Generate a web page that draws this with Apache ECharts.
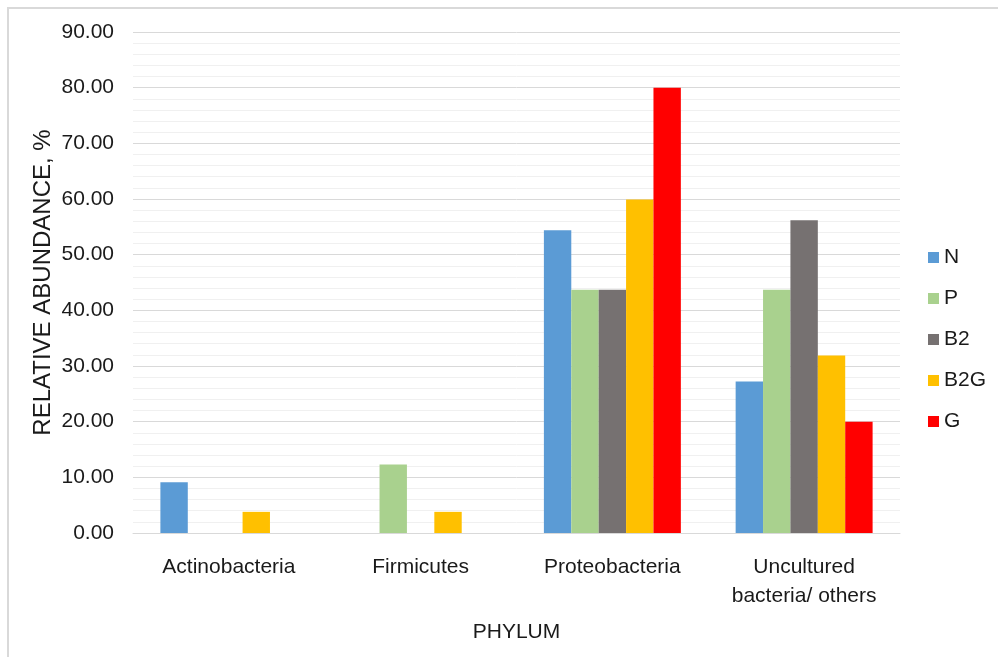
<!DOCTYPE html>
<html>
<head>
<meta charset="utf-8">
<script src="https://cdn.jsdelivr.net/npm/echarts@6/dist/echarts.min.js"></script>
<style>
html,body{margin:0;padding:0;background:#fff;}
#chart{width:998px;height:657px;}
</style>
</head>
<body>
<div id="chart"></div>
<script>
var categories = ['Actinobacteria', 'Firmicutes', 'Proteobacteria', 'Uncultured\nbacteria/ others'];
var seriesNames = ['N', 'P', 'B2', 'B2G', 'G'];
var valuesN   = [9.1, null, 54.4, 27.2];
var valuesP   = [null, 12.3, 43.7, 43.7];
var valuesB2  = [null, null, 43.7, 56.2];
var valuesB2G = [3.8, 3.8, 59.9, 31.9];
var valuesG   = [null, null, 80.0, 20.0];
var yTicks = { min: 0, max: 90, interval: 10 };

var colors = ['#5B9BD5', '#A9D18E', '#767171', '#FFC000', '#FF0000'];
var allValues = [valuesN, valuesP, valuesB2, valuesB2G, valuesG];
var FONT = 'Liberation Sans, Arial, sans-serif';

var chart = echarts.init(document.getElementById('chart'), null, { renderer: 'canvas' });
chart.setOption({
  animation: false,
  backgroundColor: '#fff',
  textStyle: { fontFamily: FONT, color: '#1a1a1a' },
  graphic: [{
    type: 'rect',
    shape: { x: 8, y: 8, width: 2000, height: 2000 },
    style: { fill: 'none', stroke: '#d9d9d9', lineWidth: 2 },
    silent: true
  }],
  grid: { left: 133, right: 98, top: 32, bottom: 124, containLabel: false },
  legend: {
    orient: 'vertical',
    left: 928,
    top: 247,
    padding: 0,
    itemWidth: 11,
    itemHeight: 11,
    itemGap: 20,
    icon: 'rect',
    textStyle: { fontSize: 21, lineHeight: 21, color: '#1a1a1a', fontFamily: FONT },
    data: seriesNames
  },
  xAxis: {
    type: 'category',
    data: categories,
    name: 'PHYLUM',
    nameLocation: 'middle',
    nameGap: 89,
    nameMoveOverlap: false,
    nameTextStyle: { fontSize: 21, color: '#1a1a1a', fontFamily: FONT },
    axisLine: { lineStyle: { color: '#d9d9d9', width: 1 } },
    axisTick: { show: false },
    axisLabel: { fontSize: 21, lineHeight: 29, margin: 20, color: '#1a1a1a', fontFamily: FONT, interval: 0 }
  },
  yAxis: {
    type: 'value',
    min: yTicks.min,
    max: yTicks.max,
    interval: yTicks.interval,
    name: 'RELATIVE ABUNDANCE, %',
    nameLocation: 'middle',
    nameGap: 78,
    nameMoveOverlap: false,
    nameTextStyle: { fontSize: 24, color: '#1a1a1a', fontFamily: FONT },
    axisLine: { show: false },
    axisTick: { show: false },
    axisLabel: {
      fontSize: 21, margin: 19, color: '#1a1a1a', fontFamily: FONT,
      formatter: function (v) { return v.toFixed(2); }
    },
    splitLine: { lineStyle: { color: '#d9d9d9', width: 1 } },
    minorTick: { show: false, splitNumber: 5 },
    minorSplitLine: { show: true, lineStyle: { color: '#f0f0f0', width: 1 } }
  },
  series: seriesNames.map(function (name, i) {
    return {
      name: name,
      type: 'bar',
      data: allValues[i],
      barGap: 0,
      barCategoryGap: (200 / 7) + '%',
      itemStyle: { color: colors[i] }
    };
  })
});
</script>
</body>
</html>
